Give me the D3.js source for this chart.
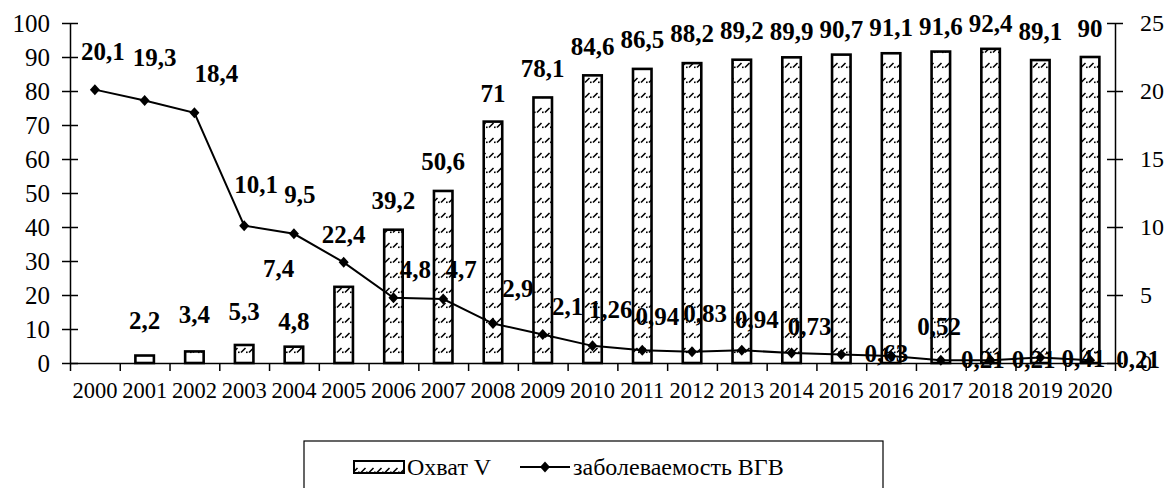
<!DOCTYPE html>
<html>
<head>
<meta charset="utf-8">
<script src="https://cdn.jsdelivr.net/npm/d3@7/dist/d3.min.js"></script>
<style>
  html, body { margin: 0; padding: 0; background: #fff; }
  svg { display: block; }
  text { font-family: "Liberation Serif", "Times New Roman", "DejaVu Serif", serif; fill: #000; }
</style>
</head>
<body>
<svg id="chart" width="1170" height="488"></svg>
<script>
// Years on the category axis
const years = ["2000","2001","2002","2003","2004","2005","2006","2007","2008","2009","2010",
               "2011","2012","2013","2014","2015","2016","2017","2018","2019","2020"];
// Vaccination coverage, % (bars, left axis)
const coverage = [null, 2.2, 3.4, 5.3, 4.8, 22.4, 39.2, 50.6, 71, 78.1, 84.6,
                  86.5, 88.2, 89.2, 89.9, 90.7, 91.1, 91.6, 92.4, 89.1, 90];
// Hepatitis B incidence (line, right axis)
const incidence = [20.1, 19.3, 18.4, 10.1, 9.5, 7.4, 4.8, 4.7, 2.9, 2.1, 1.26,
                   0.94, 0.83, 0.94, 0.73, 0.63, 0.52, 0.21, 0.21, 0.41, 0.21];
// Axis ticks
const leftTicks = [0, 10, 20, 30, 40, 50, 60, 70, 80, 90, 100];
const rightTicks = [0, 5, 10, 15, 20, 25];
// Legend captions
const seriesNames = ["Охват V", "заболеваемость ВГВ"];

// Hand-placed label nudges (px): bar labels lifted above the bar top,
// line labels shifted from their marker.
const barLabelLift = [20, 27, 28, 25, 17, 44, 21, 21, 20, 20, 20, 21, 21, 21, 17, 17, 17, 17, 17, 20, 20];
const lineLabelShift = [[8,-30],[10,-35],[22,-31],[12,-33],[6,-31],[-65,15],[22,-20],[18,-21],
                        [25,-27],[25,-19],[18,-28],[15,-25],[13,-30],[15,-22],[18,-18],[45,8],
                        [48,-21],[42,8],[43,8],[43,10],[48,8]];

const svg = d3.select("#chart");
const plot = { left: 70, right: 1115, top: 23, bottom: 363 };
const font = '"Liberation Serif", "Times New Roman", "DejaVu Serif", serif';

// Bar fill: white with short upward dashes
const defs = svg.append("defs");
const pat = defs.append("pattern").attr("id", "dashUp")
  .attr("patternUnits", "userSpaceOnUse").attr("width", 8).attr("height", 15);
pat.append("rect").attr("width", 8).attr("height", 15).attr("fill", "#fff");
pat.append("path").attr("d", "M1,7.5 L5.5,3").attr("stroke", "#000").attr("stroke-width", 1.6);
pat.append("rect").attr("x", 6).attr("y", 6.5).attr("width", 1.6).attr("height", 1.6).attr("fill", "#000");

const x = d3.scaleBand().domain(years).range([plot.left, plot.right]).paddingInner(0.628).paddingOuter(0.314);
const xEdge = d3.scaleLinear().domain([0, years.length]).range([plot.left, plot.right]);
const yL = d3.scaleLinear().domain([0, 100]).range([plot.bottom, plot.top]);
const yR = d3.scaleLinear().domain([0, 25]).range([plot.bottom, plot.top]);
const cx = d => x(d) + x.bandwidth() / 2;

// Bars
const rows = years.map((yr, i) => ({ yr, i, v: coverage[i], r: incidence[i] }));
svg.append("g").selectAll("rect").data(rows.filter(d => d.v != null)).join("rect")
  .attr("x", d => x(d.yr)).attr("width", x.bandwidth())
  .attr("y", d => yL(d.v)).attr("height", d => yL(0) - yL(d.v))
  .attr("fill", "url(#dashUp)").attr("stroke", "#000").attr("stroke-width", 2.6);

// Left axis
const gL = svg.append("g").attr("transform", `translate(${plot.left},0)`)
  .call(d3.axisLeft(yL).tickValues(leftTicks).tickSizeInner(8).tickSizeOuter(0).tickPadding(12).tickFormat(d3.format("d")));
gL.selectAll(".tick line").attr("x1", 8);
// Right axis
const gR = svg.append("g").attr("transform", `translate(${plot.right},0)`)
  .call(d3.axisRight(yR).tickValues(rightTicks).tickSizeInner(8).tickSizeOuter(0).tickPadding(17).tickFormat(d3.format("d")));
gR.selectAll(".tick line").attr("x1", -8);
[gL, gR].forEach(g => {
  g.selectAll("text").attr("font-family", font).attr("font-size", 25).attr("fill", "#000");
  g.selectAll("line, path").attr("stroke", "#000").attr("stroke-width", 1.5);
});
gR.selectAll("text").attr("font-size", 24);

// Category axis: tick marks on boundaries, labels centred in bands
const gB = svg.append("g").attr("transform", `translate(0,${plot.bottom})`)
  .call(d3.axisBottom(xEdge).tickValues(d3.range(years.length + 1)).tickSizeInner(8).tickSizeOuter(0).tickFormat(""));
gB.selectAll("line, path").attr("stroke", "#000").attr("stroke-width", 1.5);
svg.append("g").selectAll("text").data(years).join("text")
  .attr("x", d => cx(d)).attr("y", 398).attr("text-anchor", "middle")
  .attr("font-size", 22.5).text(d => d);

// Incidence line with diamond markers
const line = d3.line().x(d => cx(d.yr)).y(d => yR(d.r));
svg.append("path").datum(rows).attr("d", line)
  .attr("fill", "none").attr("stroke", "#000").attr("stroke-width", 2);
const diamond = "M0,-5.5L5,0L0,5.5L-5,0Z";
svg.append("g").selectAll("path").data(rows).join("path")
  .attr("transform", d => `translate(${cx(d.yr)},${yR(d.r)})`)
  .attr("d", diamond).attr("fill", "#000");

const fmt = v => String(v).replace(".", ",");
// Coverage value labels
svg.append("g").selectAll("text").data(rows.filter(d => d.v != null)).join("text")
  .attr("x", d => cx(d.yr)).attr("y", d => yL(d.v) - barLabelLift[d.i])
  .attr("text-anchor", "middle").attr("font-size", 25).attr("font-weight", "bold")
  .text(d => fmt(d.v));
// Incidence value labels
svg.append("g").selectAll("text").data(rows).join("text")
  .attr("x", d => cx(d.yr) + lineLabelShift[d.i][0]).attr("y", d => yR(d.r) + lineLabelShift[d.i][1])
  .attr("text-anchor", "middle").attr("font-size", 25).attr("font-weight", "bold")
  .text(d => fmt(d.r));

// Legend
const lg = svg.append("g");
lg.append("rect").attr("x", 304).attr("y", 441).attr("width", 579).attr("height", 60)
  .attr("fill", "#fff").attr("stroke", "#000").attr("stroke-width", 1.2);
lg.append("rect").attr("x", 354).attr("y", 461).attr("width", 50).attr("height", 12)
  .attr("fill", "url(#dashUp)").attr("stroke", "#000").attr("stroke-width", 2);
lg.append("text").attr("x", 407).attr("y", 475).attr("font-size", 24).text(seriesNames[0]);
lg.append("line").attr("x1", 520).attr("x2", 570).attr("y1", 467).attr("y2", 467)
  .attr("stroke", "#000").attr("stroke-width", 2);
lg.append("path").attr("transform", "translate(545,467)").attr("d", diamond).attr("fill", "#000");
lg.append("text").attr("x", 573).attr("y", 475).attr("font-size", 24).text(seriesNames[1]);
</script>
</body>
</html>
